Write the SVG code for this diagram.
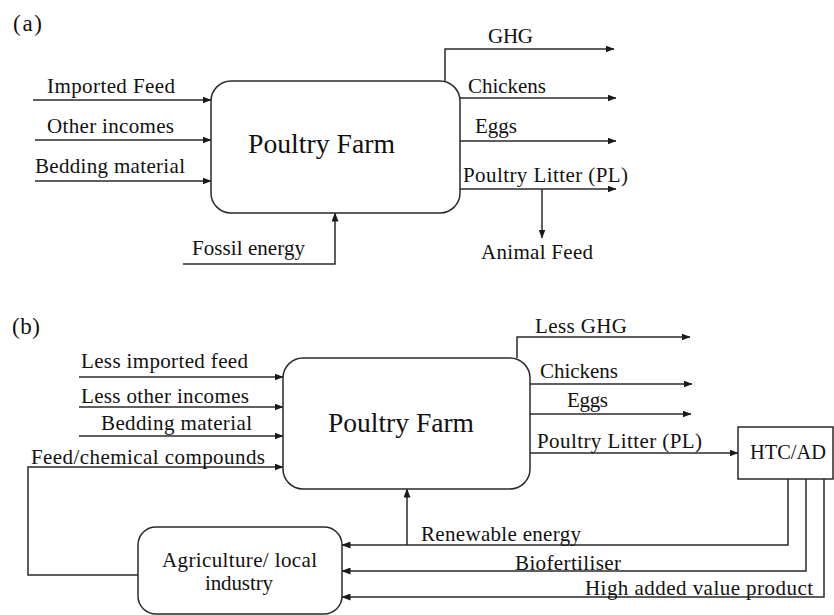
<svg xmlns="http://www.w3.org/2000/svg" width="834" height="615" viewBox="0 0 834 615">
<defs>
<marker id="ah" markerWidth="9" markerHeight="7" refX="8.5" refY="3.5" orient="auto" markerUnits="userSpaceOnUse">
<path d="M0,0 L9,3.5 L0,7 z" fill="#1a1a1a"/>
</marker>
<style>
.box{fill:#fff;stroke:#2a2a2a;stroke-width:1.5}
.ln{fill:none;stroke:#2a2a2a;stroke-width:1.5}
.ar{marker-end:url(#ah)}
</style>
</defs>
<rect width="834" height="615" fill="#fff"/>
<g font-family="Liberation Serif, Times New Roman, serif" font-size="21" fill="#111">

<!-- Panel (a) -->
<text x="13" y="31" font-size="23" textLength="29" lengthAdjust="spacing">(a)</text>
<g id="conn-a">
<path class="ln ar" d="M33,100 L211,100"/>
<path class="ln ar" d="M35,140 L211,140"/>
<path class="ln ar" d="M35,181 L211,181"/>
<path class="ln ar" d="M183,264 L335,264 L335,213"/>
<path class="ln ar" d="M445,81 L445,49 L614,49"/>
<path class="ln ar" d="M460,98 L616,98"/>
<path class="ln ar" d="M460,141 L616,141"/>
<path class="ln ar" d="M460,189 L616,189"/>
<path class="ln ar" d="M542,189 L542,238"/>
<text x="47" y="93" textLength="128" lengthAdjust="spacing">Imported Feed</text>
<text x="47" y="133" textLength="127" lengthAdjust="spacing">Other incomes</text>
<text x="35" y="173" textLength="150" lengthAdjust="spacing">Bedding material</text>
<text x="192" y="255" textLength="113" lengthAdjust="spacing">Fossil energy</text>
<text x="488" y="43" textLength="45" lengthAdjust="spacing">GHG</text>
<text x="468" y="93" textLength="78" lengthAdjust="spacing">Chickens</text>
<text x="475" y="133" textLength="42" lengthAdjust="spacing">Eggs</text>
<text x="463" y="182" textLength="165" lengthAdjust="spacing">Poultry Litter (PL)</text>
<text x="481" y="259" textLength="112" lengthAdjust="spacing">Animal Feed</text>
</g>
<g id="farm-a">
<rect class="box" x="211" y="81" width="249" height="132" rx="20" ry="20"/>
<text font-size="28" x="248" y="153" textLength="147" lengthAdjust="spacingAndGlyphs">Poultry Farm</text>
</g>

<!-- Panel (b) -->
<text x="12" y="334" font-size="23" textLength="28" lengthAdjust="spacing">(b)</text>
<g id="conn-b">
<path class="ln ar" d="M79,377 L283,377"/>
<path class="ln ar" d="M79,407 L283,407"/>
<path class="ln ar" d="M79,436 L283,436"/>
<path class="ln ar" d="M138,575 L28,575 L28,467 L283,467"/>
<path class="ln ar" d="M517,358 L517,337 L690,337"/>
<path class="ln ar" d="M530,384 L692,384"/>
<path class="ln ar" d="M530,414 L691,414"/>
<path class="ln ar" d="M530,453 L738,453"/>
<path class="ln ar" d="M788,479 L788,545 L342,545"/>
<path class="ln ar" d="M407,545 L407,489"/>
<path class="ln ar" d="M806,479 L806,571 L342,571"/>
<path class="ln ar" d="M824,479 L824,597 L342,597"/>
<text x="81" y="368" textLength="167" lengthAdjust="spacing">Less imported feed</text>
<text x="81" y="403" textLength="168" lengthAdjust="spacing">Less other incomes</text>
<text x="101" y="430" textLength="151" lengthAdjust="spacing">Bedding material</text>
<text x="31" y="464" textLength="234" lengthAdjust="spacing">Feed/chemical compounds</text>
<text x="535" y="333" textLength="92" lengthAdjust="spacing">Less GHG</text>
<text x="540" y="378" textLength="78" lengthAdjust="spacing">Chickens</text>
<text x="567" y="407" textLength="41" lengthAdjust="spacing">Eggs</text>
<text x="537" y="448" textLength="165" lengthAdjust="spacing">Poultry Litter (PL)</text>
<text x="421" y="541" textLength="160" lengthAdjust="spacing">Renewable energy</text>
<text x="515" y="570" textLength="106" lengthAdjust="spacing">Biofertiliser</text>
<text x="585" y="595" textLength="228" lengthAdjust="spacing">High added value product</text>
</g>
<g id="farm-b">
<rect class="box" x="283" y="358" width="247" height="131" rx="20" ry="20"/>
<text font-size="28" x="328" y="432" textLength="146" lengthAdjust="spacingAndGlyphs">Poultry Farm</text>
</g>
<g id="htc">
<rect class="box" x="738" y="427" width="95" height="52"/>
<text x="750" y="459" font-size="22" textLength="76" lengthAdjust="spacingAndGlyphs">HTC/AD</text>
</g>
<g id="agri">
<rect class="box" x="138" y="527" width="204" height="87" rx="18" ry="18"/>
<text x="162" y="567" textLength="155" lengthAdjust="spacing">Agriculture/ local</text>
<text x="205" y="590" textLength="68" lengthAdjust="spacing">industry</text>
</g>
</g>
</svg>
